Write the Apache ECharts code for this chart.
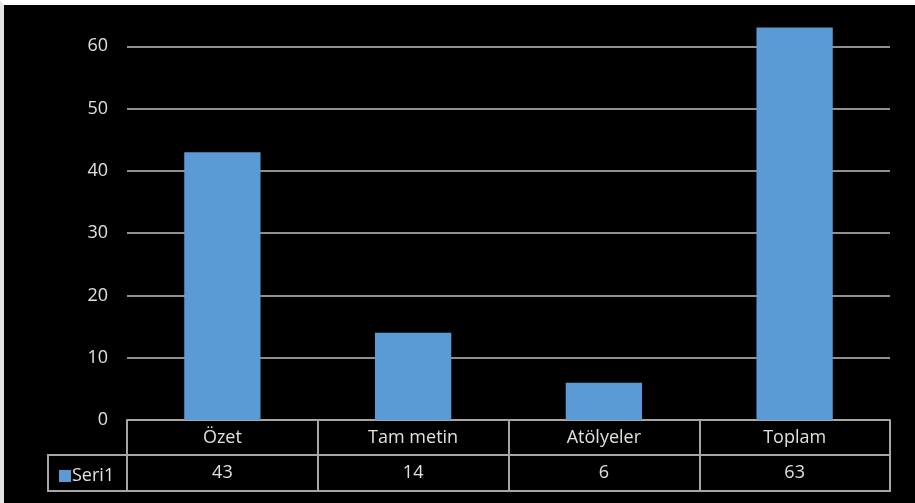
<!DOCTYPE html>
<html><head><meta charset="utf-8">
<script src="https://cdn.jsdelivr.net/npm/echarts@6/dist/echarts.min.js"></script>
<style>
html,body{margin:0;padding:0;background:#000;overflow:hidden;}
#wrap{position:absolute;left:0;top:0;width:911px;height:498px;border-top:5px solid #fff;border-left:4px solid #e4e4e4;overflow:hidden;}
#chart{position:absolute;left:0;top:-30px;width:911px;height:528px;}
</style></head>
<body><div id="wrap"><div id="chart"></div></div>
<script>
const categories = ['Özet', 'Tam metin', 'Atölyeler', 'Toplam'];
const seriesName = 'Seri1';
const values = [43, 14, 6, 63];
const yTicks = [0, 10, 20, 30, 40, 50, 60, 70];

const font = 'Open Sans';
const txt = '#e0e0e0';
const lineC = '#a6a6a6';
const chart = echarts.init(document.getElementById('chart'));
const gridLeft = 123, gridRight = 25, gridTop = 9, gridBottom = 83;
chart.setOption({
  backgroundColor: '#000',
  animation: false,
  grid: {left: gridLeft, right: gridRight, top: gridTop, bottom: gridBottom},
  legend: {
    data: [seriesName], left: 50, top: 487, icon: 'rect', itemWidth: 12, itemHeight: 12, itemGap: 4,
    textStyle: {color: txt, fontFamily: font, fontSize: 18, padding: [0,0,0,-4]}
  },
  xAxis: {
    type: 'category', data: categories,
    axisLine: {show: true, lineStyle: {color: lineC, width: 2}},
    axisTick: {show: true, length: 71, lineStyle: {color: lineC, width: 2}},
    axisLabel: {
      margin: 0, interval: 0,
      formatter: (v, i) => '{a|' + v + '}\n{a|' + values[i] + '}',
      rich: {a: {color: txt, fontFamily: font, fontSize: 18, lineHeight: 35, align: 'center'}}
    }
  },
  yAxis: {
    type: 'value', min: yTicks[0], max: yTicks[yTicks.length - 1], interval: 10,
    axisLine: {show: false}, axisTick: {show: false},
    axisLabel: {color: txt, fontFamily: font, fontSize: 18, margin: 19, showMaxLabel: false},
    splitLine: {lineStyle: {color: '#909090', width: 2}}
  },
  series: [{
    name: seriesName, type: 'bar', data: values, barWidth: '40%',
    itemStyle: {color: '#5b9bd5'}
  }]
});
const x0 = 44, x1 = chart.getWidth() - gridRight;
const yA = chart.convertToPixel({yAxisIndex: 0}, 0);
chart.setOption({
  graphic: [{
    type: 'rect', shape: {x: x0, y: yA + 35, width: x1 - x0, height: 36},
    style: {fill: null, stroke: lineC, lineWidth: 2}, z: 10
  }]
});
</script></body></html>
